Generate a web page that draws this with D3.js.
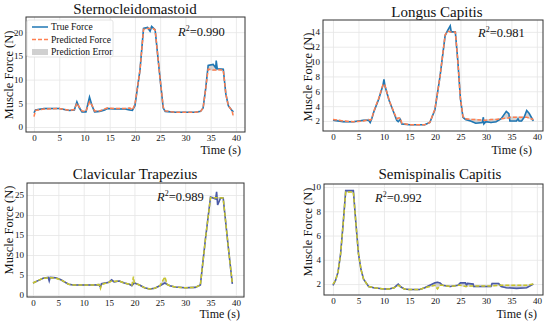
<!DOCTYPE html>
<html><head><meta charset="utf-8">
<script src="https://cdn.jsdelivr.net/npm/d3@7/dist/d3.min.js"></script>
<style>body{margin:0;background:#fff}svg{display:block}text{font-family:"Liberation Serif","Times New Roman",serif;fill:#111}</style>
</head><body><svg id="c" width="550" height="321"></svg>
<script>
// ---- Data ----
const titles = ["Sternocleidomastoid","Longus Capitis","Clavicular Trapezius","Semispinalis Capitis"];
const r2Labels = ["0.990","0.981","0.989","0.992"];
const xTicks = [0,5,10,15,20,25,30,35,40];
const yTicks1 = [0,5,10,15,20];
const yTicks2 = [2,4,6,8,10,12,14];
const yTicks3 = [0,5,10,15,20,25];
const yTicks4 = [2,4,6,8,10];

const t1    = [0,0.3,2,5,7,8,8.5,9,9.5,10.3,11,11.5,12,13,14,14.5,16,18,19,19.5,20,21,21.7,22.5,23,23.3,23.5,24,25,25.6,26,28,32,33,33.5,34,34.5,35.5,36,36.1,36.3,37.5,38,38.5,39.2,39.5];
const true1 = [3.0,3.6,3.9,3.9,3.5,3.6,5.3,4.0,3.2,3.2,6.3,4.5,3.2,3.3,3.6,3.9,3.8,3.8,3.6,3.5,4.5,12,20.8,21.0,20.2,21.2,21.0,20.5,10,4.0,3.3,3.1,3.1,3.3,4.0,8,13,13.2,12.5,14,12.3,12.2,7,4.5,3.5,3.2];
const pred1 = [2.2,3.5,3.8,3.9,3.5,3.7,5.0,4.2,3.4,3.3,5.3,4.6,3.4,3.4,3.8,4.0,3.9,3.9,4.0,3.6,4.8,12,20.6,20.8,20.8,20.8,20.8,20.5,10,4.2,3.4,3.1,3.1,3.3,4.0,8,12.2,12.0,12.0,12.0,12.1,12.0,7,4.5,3.5,2.2];

const t2    = [0,2,4,6,7,7.3,7.6,8,9,9.8,10,10.2,11,12,12.5,12.8,13.2,13.5,15,18,19,20,21,22,22.5,23,23.2,24,24.5,25,25.5,26,27,28,29.3,29.5,29.6,30,31,32,33,34,34.5,34.7,36,36.3,36.5,37,37.5,38,38.5,39.3];
const true2 = [2.1,1.9,1.9,2.1,2.1,1.8,2.3,3.2,5.0,6.8,7.6,6.7,4.8,3.0,2.1,1.9,2.2,1.6,1.5,1.5,1.8,3.5,8,13.5,14.2,14.8,14.0,14.0,10,5,2.5,2.2,2.0,1.7,1.8,2.5,1.6,1.9,1.8,1.9,2.3,3.3,3.0,2.0,2.0,2.3,2.0,2.0,2.5,3.4,3.0,2.0];
const pred2 = [2.2,2.0,1.9,2.0,2.2,2.1,2.3,3.3,5.1,6.9,7.0,6.8,4.8,3.1,2.3,2.4,2.4,1.7,1.5,1.5,1.8,3.6,8,13.6,14.1,14.0,14.0,14.0,10,5,2.6,2.3,2.2,2.2,2.1,2.1,2.1,2.1,2.2,2.2,2.3,2.4,2.4,2.5,2.5,2.5,2.5,2.5,2.5,2.5,2.4,2.2];

const t3    = [0,1,2,3,3.2,3.4,4.5,5.5,7,8,12,13,13.3,13.5,15,15.5,16,17,18,19,19.5,19.8,20,21,22,23,24,25,26,26.5,27,28,30,32,33,34,35,36,36.2,36.4,37,37.5,38.5,39.3];
const true3 = [3.0,3.6,4.2,4.4,3.5,4.4,4.3,3.8,2.7,2.5,2.5,2.6,2.0,2.8,3.2,3.8,3.3,3.5,3.0,2.7,2.3,2.8,3.0,2.5,1.8,1.5,1.7,2.3,3.0,2.6,2.3,2.0,1.8,1.9,2.5,14,24.5,24.0,25.8,22.5,24.3,24.2,12,2.8];
const pred3 = [3.0,3.6,4.2,4.3,4.3,4.3,4.2,3.8,2.7,2.5,2.5,2.6,1.6,2.6,3.2,3.5,3.4,3.5,3.0,2.7,2.5,4.6,3.0,2.5,1.8,1.5,1.7,2.3,4.5,2.6,2.3,2.0,1.8,1.9,2.5,14,24.3,24.3,24.3,24.3,24.3,24.2,12,2.8];

const t4    = [0,0.5,1,1.5,2,2.5,4,4.5,5,5.5,6,7,8,10,11,12,12.8,13.2,14,15,17,18,19,20,20.5,21,21.5,23,24.5,25,26,26.2,26.4,27.5,27.6,30,31,31.2,32.5,33,34,36,38,39.3];
const true4 = [1.9,2.3,3.0,4.5,7,9.7,9.7,7,4.5,3.2,2.4,1.8,1.7,1.6,1.6,1.7,2.0,1.8,1.6,1.55,1.55,1.7,1.9,2.1,2.15,2.1,1.9,1.8,1.9,2.1,2.1,1.9,2.05,2.0,1.8,1.8,1.8,2.05,2.05,1.8,1.7,1.65,1.7,2.0];
const pred4 = [2.0,2.3,3.0,4.5,7,9.6,9.6,7,4.5,3.2,2.4,1.8,1.7,1.6,1.6,1.7,1.9,1.8,1.6,1.55,1.55,1.7,1.8,1.9,1.6,1.9,1.9,1.8,1.9,1.9,1.8,1.8,1.85,1.85,1.85,1.85,1.85,1.85,1.9,1.9,1.9,1.9,1.9,2.0];

// ---- Layout ----
const panels = [
  {t:t1,tr:true1,pr:pred1,yt:yTicks1,fx:[26,245],fy:[17,132],xd:[-1.58,41.8],yd:[-1.05,23.2],tc:"#1f77b4",pc:"#ff7f50",title:[135,14],ylab:[9,75],tl:[241,154],r2:[178,36],legend:true},
  {t:t2,tr:true2,pr:pred2,yt:yTicks2,fx:[323,543],fy:[20,131],xd:[-1.96,41.2],yd:[0.65,15.6],tc:"#1f77b4",pc:"#ff7f50",title:[437,17],ylab:[308,77],tl:[532,154],r2:[478,37]},
  {t:t3,tr:true3,pr:pred3,yt:yTicks3,fx:[27,244],fy:[183,297],xd:[-1.18,41.6],yd:[-0.5,28],tc:"#4a5aa8",pc:"#c9c62a",title:[135,179],ylab:[9,230],tl:[240,318],r2:[157,201]},
  {t:t4,tr:true4,pr:pred4,yt:yTicks4,fx:[324,543],fy:[184,295],xd:[-1.76,41.2],yd:[1.1,10.25],tc:"#4a5aa8",pc:"#c9c62a",title:[440,179],ylab:[308,232],tl:[537,318],r2:[375,202]}
];

const svg = d3.select("#c");
panels.forEach((p,i)=>{
  const x = d3.scaleLinear().domain(p.xd).range(p.fx);
  const y = d3.scaleLinear().domain(p.yd).range([p.fy[1],p.fy[0]]);
  const g = svg.append("g");
  const data = p.t.map((t,k)=>({t,a:p.tr[k],b:p.pr[k]}));
  // grid
  g.append("g").attr("transform",`translate(0,${p.fy[1]})`)
   .call(d3.axisBottom(x).tickValues(xTicks).tickSize(-(p.fy[1]-p.fy[0])).tickFormat(""))
   .call(s=>{s.select(".domain").remove();s.selectAll("line").attr("stroke","#e6e6e6").attr("stroke-width",0.8);});
  g.append("g").attr("transform",`translate(${p.fx[0]},0)`)
   .call(d3.axisLeft(y).tickValues(p.yt).tickSize(-(p.fx[1]-p.fx[0])).tickFormat(""))
   .call(s=>{s.select(".domain").remove();s.selectAll("line").attr("stroke","#e6e6e6").attr("stroke-width",0.8);});
  // tick labels
  g.append("g").attr("transform",`translate(0,${p.fy[1]})`)
   .call(d3.axisBottom(x).tickValues(xTicks).tickSize(0).tickPadding(3))
   .call(s=>{s.select(".domain").remove();s.selectAll("text").attr("font-size",9).attr("font-family","Liberation Serif, serif").attr("fill","#222");});
  g.append("g").attr("transform",`translate(${p.fx[0]},0)`)
   .call(d3.axisLeft(y).tickValues(p.yt).tickSize(0).tickPadding(3))
   .call(s=>{s.select(".domain").remove();s.selectAll("text").attr("font-size",9).attr("font-family","Liberation Serif, serif").attr("fill","#222");});
  // error band
  const pad = 0.006*(p.yd[1]-p.yd[0]);
  g.append("path").datum(data)
   .attr("d",d3.area().x(d=>x(d.t)).y0(d=>y(Math.min(d.a,d.b)-pad)).y1(d=>y(Math.max(d.a,d.b)+pad)))
   .attr("fill","#b0b0b0").attr("opacity",0.55);
  g.append("path").datum(data).attr("d",d3.line().x(d=>x(d.t)).y(d=>y(d.a)))
   .attr("fill","none").attr("stroke",p.tc).attr("stroke-width",1.6);
  g.append("path").datum(data).attr("d",d3.line().x(d=>x(d.t)).y(d=>y(d.b)))
   .attr("fill","none").attr("stroke",p.pc).attr("stroke-width",1.5).attr("stroke-dasharray","4,2");
  // frame
  g.append("rect").attr("x",p.fx[0]).attr("y",p.fy[0]).attr("width",p.fx[1]-p.fx[0]).attr("height",p.fy[1]-p.fy[0])
   .attr("fill","none").attr("stroke","#333").attr("stroke-width",1);
  // texts
  g.append("text").attr("x",p.title[0]).attr("y",p.title[1]).attr("text-anchor","middle").attr("font-size",15).text(titles[i]);
  g.append("text").attr("transform",`translate(${p.ylab[0]+4},${p.ylab[1]}) rotate(-90)`).attr("text-anchor","middle").attr("font-size",12.5).text("Muscle Force (N)");
  g.append("text").attr("x",p.tl[0]).attr("y",p.tl[1]).attr("text-anchor","end").attr("font-size",12).text("Time (s)");
  const r = g.append("text").attr("x",p.r2[0]).attr("y",p.r2[1]).attr("font-size",12.5);
  r.append("tspan").attr("font-style","italic").text("R");
  r.append("tspan").attr("font-size",8).attr("dy",-5).text("2");
  r.append("tspan").attr("dy",5).text("=" + r2Labels[i]);
  if(p.legend){
    const lg = g.append("g");
    lg.append("rect").attr("x",27).attr("y",20).attr("width",86).attr("height",37).attr("rx",2)
      .attr("fill","#fff").attr("fill-opacity",0.85).attr("stroke","#ddd").attr("stroke-width",0.8);
    const items = [["True Force","line"],["Predicted Force","dash"],["Prediction Error","band"]];
    items.forEach((it,k)=>{
      const yy = 27 + k*12.5;
      if(it[1]==="band") lg.append("rect").attr("x",32).attr("y",yy-3).attr("width",16).attr("height",6).attr("fill","#b0b0b0").attr("opacity",0.6);
      else lg.append("line").attr("x1",32).attr("x2",48).attr("y1",yy).attr("y2",yy)
        .attr("stroke",it[1]==="line"?p.tc:p.pc).attr("stroke-width",1.5).attr("stroke-dasharray",it[1]==="dash"?"4,2":null);
      lg.append("text").attr("x",51).attr("y",yy+3).attr("font-size",9.5).text(it[0]);
    });
  }
});
</script></body></html>
